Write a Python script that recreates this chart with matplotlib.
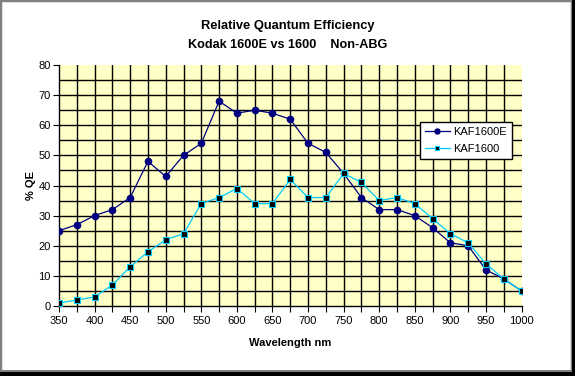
import matplotlib
matplotlib.use("Agg")
import matplotlib.pyplot as plt
import matplotlib.ticker as mticker
from matplotlib.patches import Rectangle

wavelength = [350, 375, 400, 425, 450, 475, 500, 525, 550, 575, 600, 625, 650, 675,
              700, 725, 750, 775, 800, 825, 850, 875, 900, 925, 950, 975, 1000]
qe_1600e = [25, 27, 30, 32, 36, 48, 43, 50, 54, 68, 64, 65, 64, 62,
            54, 51, 44, 36, 32, 32, 30, 26, 21, 20, 12, 9, 5]
qe_1600 = [1, 2, 3, 7, 13, 18, 22, 24, 34, 36, 39, 34, 34, 42,
           36, 36, 44, 41, 35, 36, 34, 29, 24, 21, 14, 9, 5]

plt.rcParams.update({
    "font.family": ["Liberation Sans", "DejaVu Sans"],
    "font.size": 8,
})

fig = plt.figure(figsize=(5.75, 3.76), dpi=100)
fig.patch.set_facecolor("white")
ax = fig.add_axes([59 / 575, 1 - 306 / 376, (521.5 - 59) / 575, (306 - 65) / 376])
ax.set_facecolor("#FFFFC8")

ax.plot(wavelength, qe_1600e, color="#000080", linewidth=0.9, marker="o",
        markersize=4.5, markerfacecolor="#000080", markeredgecolor="#000080",
        label="KAF1600E", zorder=3)
ax.plot(wavelength, qe_1600, color="#00CCFF", linewidth=0.9, marker="s",
        markersize=3.8, markerfacecolor="black", markeredgecolor="#00CCFF",
        markeredgewidth=0.8, label="KAF1600", zorder=4)

ax.set_xlim(350, 1000)
ax.set_ylim(0, 80)
ax.xaxis.set_major_locator(mticker.MultipleLocator(50))
ax.xaxis.set_minor_locator(mticker.MultipleLocator(25))
ax.yaxis.set_major_locator(mticker.MultipleLocator(10))
ax.yaxis.set_minor_locator(mticker.MultipleLocator(5))

# Excel-style grid: no line along the top or right edge of the plot area
for xv in range(375, 1000, 25):
    ax.axvline(xv, color="black", linewidth=1.0, zorder=1)
for yv in range(5, 80, 5):
    ax.axhline(yv, color="black", linewidth=1.0, zorder=1)

ax.tick_params(axis="x", which="both", direction="out", length=4, width=0.8,
               colors="black", pad=3)
ax.tick_params(axis="y", which="major", direction="out", length=4, width=0.8, pad=2)
ax.tick_params(axis="y", which="minor", length=0)
for side in ("top", "right"):
    ax.spines[side].set_visible(False)
for side in ("left", "bottom"):
    ax.spines[side].set_linewidth(1.0)

ax.set_xlabel("Wavelength nm", fontsize=8, fontweight="bold", labelpad=9)
ax.set_ylabel("% QE", fontsize=8, fontweight="bold", labelpad=2)

fig.text(288 / 575, 1 - 26 / 376, "Relative Quantum Efficiency", ha="center",
         va="center", fontsize=9.3, fontweight="bold")
fig.text(288 / 575, 1 - 45 / 376, "Kodak 1600E vs 1600    Non-ABG", ha="center",
         va="center", fontsize=9.1, fontweight="bold")

leg = ax.legend(loc="upper left", bbox_to_anchor=((419.5 - 59) / 462.5, (306 - 122) / 241),
                borderaxespad=0, frameon=True, fancybox=False, framealpha=1,
                edgecolor="black", fontsize=8, handlelength=2.3, borderpad=0.45,
                labelspacing=0.6, handletextpad=0.3, markerscale=0.8)
leg.get_frame().set_linewidth(1.0)

# window-style frame: grey border, black shadow on bottom/right
fig.patches.append(Rectangle((0, 0), 572 / 575, 1, transform=fig.transFigure,
                             fill=False, edgecolor="#808080", linewidth=2.5))
fig.patches.append(Rectangle((572 / 575, 0), 3 / 575, 1, transform=fig.transFigure,
                             facecolor="black", edgecolor="none"))
fig.patches.append(Rectangle((0, 0), 1, 4 / 376, transform=fig.transFigure,
                             facecolor="black", edgecolor="none"))
fig.patches.append(Rectangle((0, 4 / 376), 572 / 575, 2 / 376, transform=fig.transFigure,
                             facecolor="#808080", edgecolor="none"))

fig.savefig("out.png", dpi=100)
